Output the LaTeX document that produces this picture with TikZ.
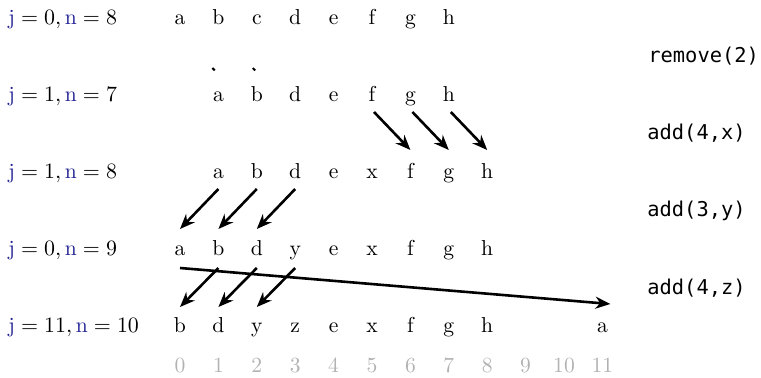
\documentclass[tikz,border=0pt]{standalone}
\usepackage{fontspec}
\setmonofont{DejaVu Sans Mono}
\usetikzlibrary{arrows.meta}
\definecolor{jn}{RGB}{35,35,150}
\definecolor{idx}{gray}{0.7}
\newcommand{\jv}{\textcolor{jn}{\mathrm{j}}}
\newcommand{\nv}{\textcolor{jn}{\mathrm{n}}}

\begin{document}
\begin{tikzpicture}[x=0.5pt,y=-0.5pt,
  elem/.style={inner sep=0pt, anchor=base, font=\fontsize{10.8}{13}\selectfont},
  lbl/.style={inner sep=0pt, anchor=base west, font=\fontsize{10.8}{13}\selectfont},
  op/.style={inner sep=0pt, anchor=base west, font=\fontsize{10.2}{13}\selectfont\ttfamily},
  mv/.style={-{Stealth[length=7.5pt,width=6pt]}, line width=1.3pt}]
\useasboundingbox (0,0) rectangle (761,378);

% state labels
\node[lbl] (s0) at (8,25) {$\jv = 0, \nv = 8$};
\node[lbl] (s1) at (8,102) {$\jv = 1, \nv = 7$};
\node[lbl] (s2) at (8,179) {$\jv = 1, \nv = 8$};
\node[lbl] (s3) at (8,256) {$\jv = 0, \nv = 9$};
\node[lbl] (s4) at (8,333) {$\jv = 11, \nv = 10$};

% array rows
\foreach \c [count=\i from 0] in {a,b,c,d,e,f,g,h}
	\node[elem] (r0-\c) at (180+38.4*\i,25) {\c};
\foreach \c [count=\i from 1] in {a,b,d,e,f,g,h}
	\node[elem] (r1-\c) at (180+38.4*\i,102) {\c};
\foreach \c [count=\i from 1] in {a,b,d,e,x,f,g,h}
	\node[elem] (r2-\c) at (180+38.4*\i,179) {\c};
\foreach \c [count=\i from 0] in {a,b,d,y,e,x,f,g,h}
	\node[elem] (r3-\c) at (180+38.4*\i,256) {\c};
\foreach \c [count=\i from 0] in {b,d,y,z,e,x,f,g,h}
	\node[elem] (r4-\c) at (180+38.4*\i,333) {\c};
\node[elem] (r4-a) at (180+38.4*11,333) {a};

% indices
\foreach \i in {0,...,11}
	\node[elem, text=idx] (i\i) at (180+38.4*\i,373) {\i};

% operations
\node[op] (op1) at (648,63) {remove(2)};
\node[op] (op2) at (647,140) {add(4,x)};
\node[op] (op3) at (647,217) {add(3,y)};
\node[op] (op4) at (647,295) {add(4,z)};

% moves
\draw[line width=1pt] ([shift={(-3pt,17pt)}]r1-a.base) -- ++(1.2pt,-1.2pt);
\draw[line width=1pt] ([shift={(-2pt,17pt)}]r1-b.base) -- ++(1.2pt,-1.2pt);
\foreach \c in {f,g,h}
	\draw[mv] ([shift={(1pt,-5pt)}]r1-\c.base) -- ([yshift=14.5pt]r2-\c.base);
\foreach \c in {a,b,d}
	\draw[mv] ([yshift=-5pt]r2-\c.base) -- ([yshift=13.5pt]r3-\c.base);
\foreach \c in {b,d,y}
	\draw[mv] ([yshift=-6pt]r3-\c.base) -- ([yshift=13pt]r4-\c.base);
\draw[mv] ([yshift=-6pt]r3-a.base) -- ([shift={(4pt,14.5pt)}]r4-a.base);
\end{tikzpicture}
\end{document}
